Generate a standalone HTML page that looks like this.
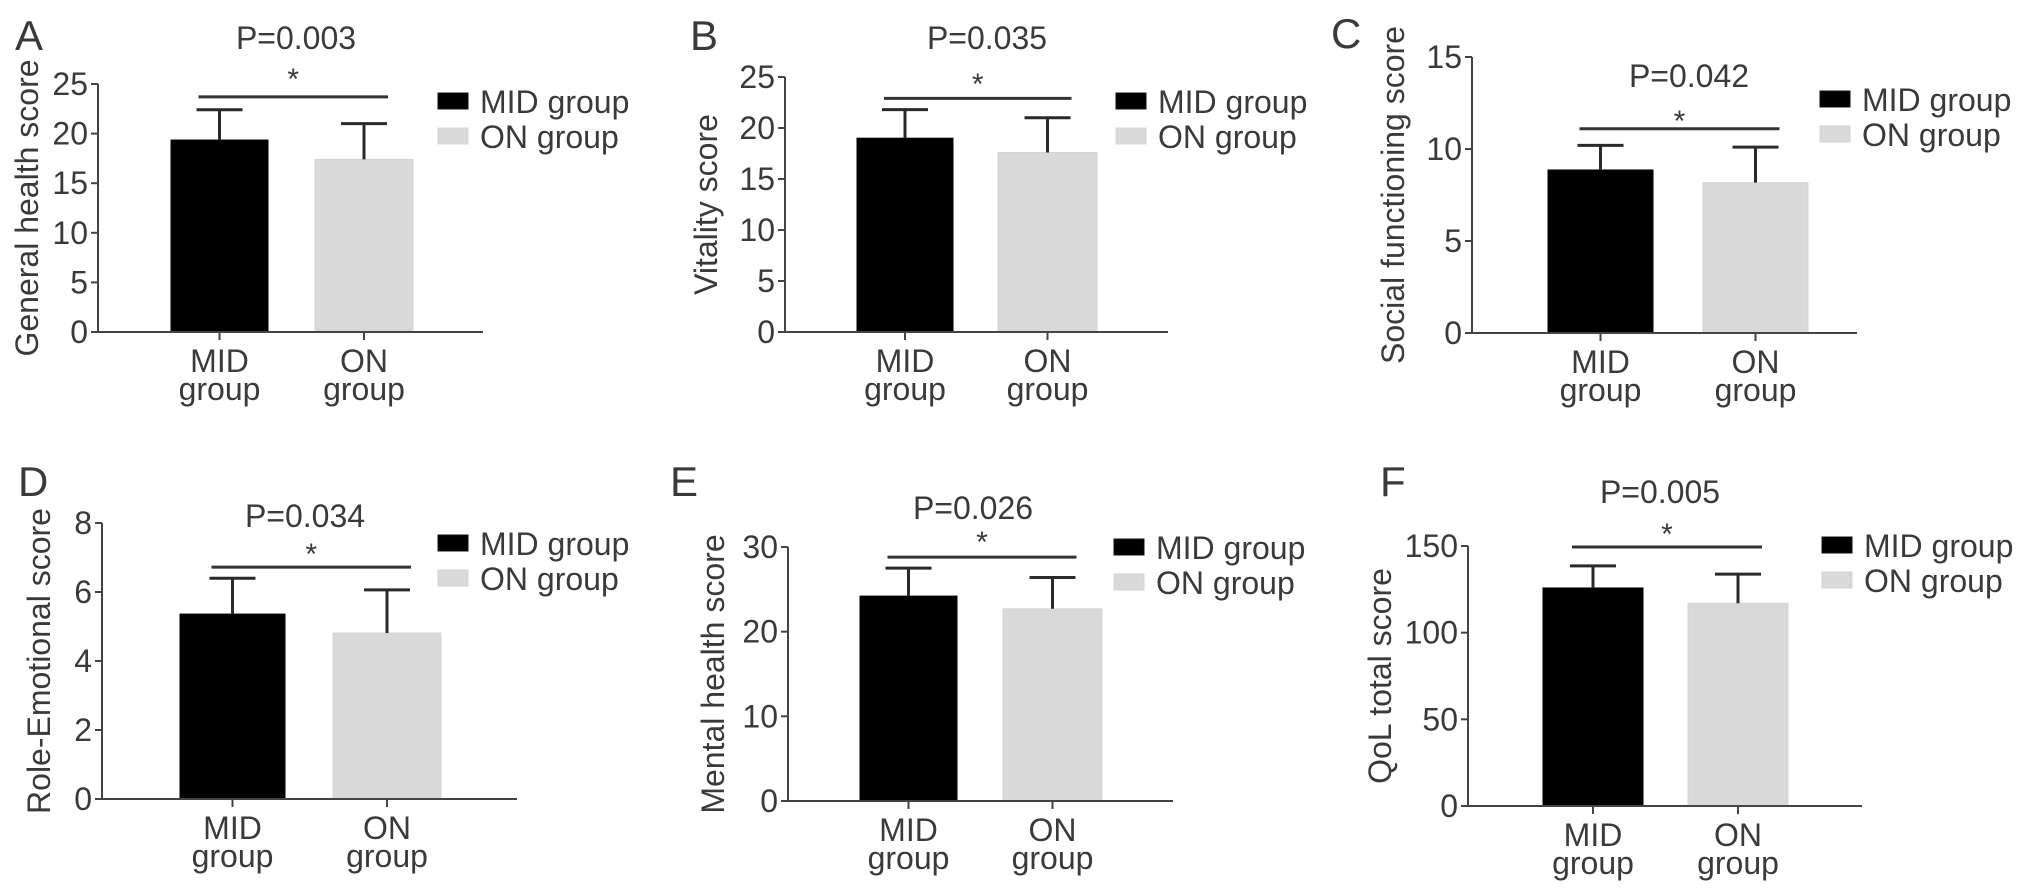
<!DOCTYPE html>
<html>
<head>
<meta charset="utf-8">
<style>
  html,body{margin:0;padding:0;background:#fff;}
  svg{display:block;}
  text{font-family:"Liberation Sans",Arial,sans-serif;fill:#3a3a3a;}
</style>
</head>
<body>
<svg id="fig" width="2032" height="893" viewBox="0 0 2032 893" xmlns="http://www.w3.org/2000/svg"></svg>
<script>
// ---- data ----
const panelLetters = ["A","B","C","D","E","F"];
const yTitles = ["General health score","Vitality score","Social functioning score","Role-Emotional score","Mental health score","QoL total score"];
const pLabels = ["P=0.003","P=0.035","P=0.042","P=0.034","P=0.026","P=0.005"];
const categories = ["MID group","ON group"];
const midMeans = [19.35, 19.0, 8.86, 5.36, 24.2, 125.8];
const midSD    = [3.05, 2.8, 1.34, 1.04, 3.3, 12.7];
const onMeans  = [17.4, 17.6, 8.17, 4.81, 22.7, 117.0];
const onSD     = [3.6, 3.4, 1.93, 1.25, 3.7, 16.8];
const sigLevels = [23.7, 22.9, 11.1, 6.72, 28.8, 149.4];
const yMax = [25, 25, 15, 8, 30, 150];
const tickA = [0,5,10,15,20,25];
const tickB = [0,5,10,15,20,25];
const tickC = [0,5,10,15];
const tickD = [0,2,4,6,8];
const tickE = [0,10,20,30];
const tickF = [0,50,100,150];
const tickSets = [tickA,tickB,tickC,tickD,tickE,tickF];

// ---- layout (pixels, not data) ----
const layout = [
  {x0:98,  y0:332, yTop:84,  xEnd:483,  bars:[[171,268],[315,413]], letter:[15,50],   p:[296,49],  star:75,  leg:[438,93],  tx:27},
  {x0:785, y0:332, yTop:77,  xEnd:1168, bars:[[857,953],[998,1097]], letter:[690,50], p:[987,49],  star:80,  leg:[1116,93], tx:706},
  {x0:1472,y0:333, yTop:57,  xEnd:1857, bars:[[1548,1653],[1703,1808]], letter:[1331,48], p:[1689,87], star:117, leg:[1820,91], tx:1393},
  {x0:102, y0:799, yTop:523, xEnd:517,  bars:[[180,285],[333,441]], letter:[18,496],  p:[305,527], star:550, leg:[438,535], tx:39},
  {x0:788, y0:801, yTop:547, xEnd:1173, bars:[[860,957],[1003,1102]], letter:[670,496], p:[973,519], star:538, leg:[1114,539], tx:713},
  {x0:1468,y0:806, yTop:546, xEnd:1862, bars:[[1543,1643],[1688,1788]], letter:[1380,496], p:[1660,503], star:530, leg:[1822,537], tx:1380}
];
const colors = ["#000000","#d9d9d9"];
const NS = "http://www.w3.org/2000/svg";
const svg = document.getElementById("fig");

function mk(tag, attrs, parent){
  const e = document.createElementNS(NS, tag);
  for (const k in attrs) e.setAttribute(k, attrs[k]);
  (parent||svg).appendChild(e);
  return e;
}

for (let i = 0; i < 6; i++) {
  const L = layout[i];
  const yScale = v => L.y0 - (v / yMax[i]) * (L.y0 - L.yTop);
  const g = mk("g", {});
  
  

  const letter = mk("text", {x:L.letter[0], y:L.letter[1], "font-size":42, fill:"#222"}, g);
  letter.textContent = panelLetters[i];
  
  

  const pt = mk("text", {x:L.p[0], y:L.p[1], "font-size":32, "text-anchor":"middle"}, g);
  pt.textContent = pLabels[i];
  
  

  // bars
  const means = [midMeans[i], onMeans[i]];
  const sds = [midSD[i], onSD[i]];
  for (let b = 0; b < 2; b++) {
    const [bx0, bx1] = L.bars[b];
    const top = yScale(means[b]);
    const r = mk("rect", {x:bx0, y:top, width:bx1-bx0, height:L.y0-top, fill:colors[b], stroke: b===0?"#000":"#d4d4d4", "stroke-width":1}, g);
    
    
    const cx = (bx0+bx1)/2;
    const et = yScale(means[b] + sds[b]);
    const eb = mk("path", {d:`M${cx},${top} V${et} M${cx-23},${et} H${cx+23}`, stroke:"#2a2a2a", "stroke-width":3, fill:"none"}, g);
    
    
    // x tick
    mk("line", {x1:cx, y1:L.y0, x2:cx, y2:L.y0+8, stroke:"#444", "stroke-width":2}, g);
    const lab = categories[b].split(" ");
    const t1 = mk("text", {x:cx, y:L.y0+40, "font-size":32, "text-anchor":"middle"}, g);
    t1.textContent = lab[0];
    
    
    const t2 = mk("text", {x:cx, y:L.y0+68, "font-size":32, "text-anchor":"middle"}, g);
    t2.textContent = lab[1];
    
    
  }

  // axes
  const ax = mk("path", {d:`M${L.x0},${L.yTop} V${L.y0} H${L.xEnd}`, stroke:"#444", "stroke-width":2, fill:"none"}, g);
  
  
  tickSets[i].forEach(v => {
    const y = yScale(v);
    mk("line", {x1:L.x0-7, y1:y, x2:L.x0, y2:y, stroke:"#444", "stroke-width":2}, g);
    const tl = mk("text", {x:L.x0-10, y:y+11, "font-size":32, "text-anchor":"end"}, g);
    tl.textContent = v;
    
    
  });

  // y title
  const cy = (L.y0 + L.yTop)/2;
  const yt = mk("text", {x:L.tx, y:cy, "font-size":32, "text-anchor":"middle", "dominant-baseline":"central", transform:`rotate(-90 ${L.tx} ${cy})`}, g);
  yt.textContent = yTitles[i];
  
  

  // significance line
  const c0 = (L.bars[0][0]+L.bars[0][1])/2 - 21;
  const c1 = (L.bars[1][0]+L.bars[1][1])/2 + 24;
  const sy = yScale(sigLevels[i]);
  const sl = mk("line", {x1:c0, y1:sy, x2:c1, y2:sy, stroke:"#333", "stroke-width":3}, g);
  
  
  const st = mk("text", {x:(c0+c1)/2, y:L.star+14, "font-size":30, "text-anchor":"middle", fill:"#222"}, g);
  st.textContent = "*";
  
  

  // legend
  for (let b = 0; b < 2; b++) {
    const ly = L.leg[1] + b*35;
    const box = mk("rect", {x:L.leg[0], y:ly, width:30, height:16, fill:colors[b], stroke:b===0?"#111":"#d4d4d4", "stroke-width":1}, g);
    
    
    const lt = mk("text", {x:L.leg[0]+42, y:ly+20, "font-size":32}, g);
    lt.textContent = categories[b];
    
    
  }
}
</script>
</body>
</html>
